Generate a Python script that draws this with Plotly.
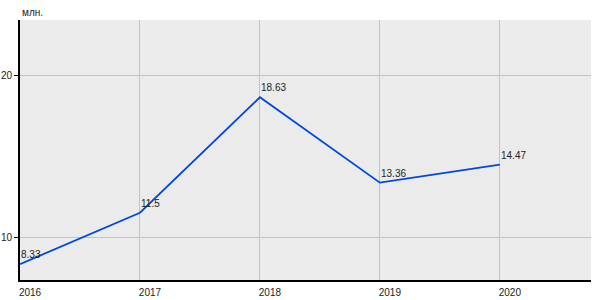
import plotly.graph_objects as go

years = [2016, 2017, 2018, 2019, 2020]
values = [8.33, 11.5, 18.63, 13.36, 14.47]
labels = ["8.33", "11.5", "18.63", "13.36", "14.47"]
ytick_vals = [10, 20]
unit_label = "млн."

fig = go.Figure()
fig.add_trace(go.Scatter(
    x=years, y=values, mode="lines",
    line=dict(color="#0046e6", width=1.8),
    cliponaxis=False,
))

annotations = [dict(
    text=t, x=x, y=y, xref="x", yref="y", xanchor="left", yanchor="bottom",
    xshift=-1, yshift=2, showarrow=False,
    font=dict(family="Liberation Sans, Arial", size=10, color="#222"),
) for x, y, t in zip(years, values, labels)]

annotations.append(dict(
    text=unit_label, xref="paper", yref="paper", x=0, y=1,
    xanchor="left", yanchor="bottom", yshift=0, showarrow=False,
    font=dict(family="Liberation Sans, Arial", size=10, color="#222"),
))

fig.update_layout(
    width=600, height=300,
    margin=dict(l=20, r=9, t=20, b=20),
    paper_bgcolor="white", plot_bgcolor="#ebebeb",
    showlegend=False,
    font=dict(family="Liberation Sans, Arial", size=10, color="#222"),
    xaxis=dict(
        range=[2016, 2020.76], tickvals=years, ticktext=[str(y) for y in years],
        showgrid=True, gridcolor="#c4c4c4", gridwidth=1,
        showline=True, linecolor="black", linewidth=2,
        ticks="", ticklabelshift=10, ticklabelstandoff=2,
        zeroline=False, fixedrange=True, automargin=False,
    ),
    yaxis=dict(
        range=[7.35, 23.4], tickvals=ytick_vals,
        showgrid=True, gridcolor="#c4c4c4", gridwidth=1,
        showline=True, linecolor="black", linewidth=2,
        ticks="outside", ticklen=4, tickcolor="black", tickwidth=1,
        zeroline=False, fixedrange=True, automargin=False,
    ),
    annotations=annotations,
)

fig.write_html("out.html")
